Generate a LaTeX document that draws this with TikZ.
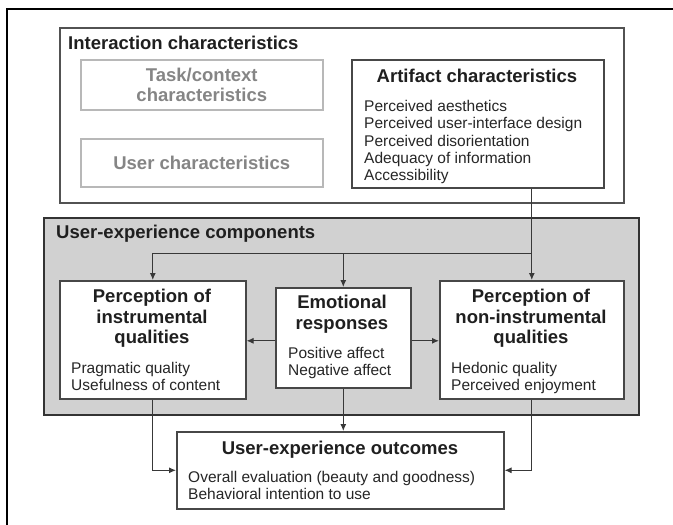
\documentclass[tikz,border=0pt]{standalone}
\usepackage{fontspec}
\setmainfont{Liberation Sans}
\usepackage{tikz}
\usetikzlibrary{arrows.meta,positioning,calc}
\tikzset{
  grp/.style={rectangle, draw=black!68, line width=1.6pt, inner sep=0pt, anchor=north west},
  ucbox/.style={grp, draw=black!80, line width=2pt, fill=black!18},
  dimbox/.style={grp, draw=black!28, text=black!48, align=center,
                 font=\fontsize{18.5}{20.5}\selectfont\bfseries},
  wbox/.style={grp, draw=black!72, fill=white},
  ttl/.style={inner sep=0pt, align=center, text=black!88,
              font=\fontsize{18.5}{20.5}\selectfont\bfseries},
  itm/.style={inner sep=0pt, align=left, anchor=north west, text=black!85,
              font=\fontsize{15.5}{17.3}\selectfont},
  ar/.style={-{Latex[length=7pt,width=6pt]}, line width=1pt, draw=black!78},
  frm/.style={line width=1.8pt, draw=black},
}

\begin{document}
\begin{tikzpicture}[x=1pt,y=-1pt]
\useasboundingbox (0,0) rectangle (673,525);

% ============================ page frame ================================
\draw[frm] (673,9) -- (7,9) -- (7,525);

% ============================ interaction characteristics ===============
\node[grp, minimum width=564pt, minimum height=175pt] (inter) at (59,27) {};
\node[ttl, anchor=west] (interT) at (68,43) {Interaction characteristics};

\node[dimbox, minimum width=242pt, minimum height=50pt] (task) at (80,59)
  {Task/context\\characteristics};
\node[dimbox, minimum width=242pt, minimum height=48pt] (user) at (80,138)
  {User characteristics};

\node[wbox, minimum width=252pt, minimum height=128pt] (art) at (351,59) {};
\node[ttl] (artT) at (477,76) {Artifact characteristics};
\node[itm] (artL) at (364,100)
  {Perceived aesthetics\\Perceived user-interface design\\Perceived disorientation\\
   Adequacy of information\\Accessibility};

% ============================ user-experience components ================
\node[ucbox, minimum width=595pt, minimum height=197pt] (uxc) at (43,217) {};
\node[ttl, anchor=north west] (uxcT) at (56,225) {User-experience components};

\node[wbox, minimum width=186pt, minimum height=118pt] (pinst) at (59,280) {};
\node[ttl, anchor=north] (pinstT) at (152,289) {Perception of\\instrumental\\qualities};
\node[itm] (pinstL) at (71,362) {Pragmatic quality\\Usefulness of content};

\node[wbox, minimum width=135pt, minimum height=100pt] (emo) at (275,287) {};
\node[ttl, anchor=north] (emoT) at (342,295) {Emotional\\responses};
\node[itm] (emoL) at (288,347) {Positive affect\\Negative affect};

\node[wbox, minimum width=184pt, minimum height=118pt] (pnon) at (439,280) {};
\node[ttl, anchor=north] (pnonT) at (531,289) {Perception of\\non-instrumental\\qualities};
\node[itm] (pnonL) at (451,362) {Hedonic quality\\Perceived enjoyment};

% ============================ user-experience outcomes ==================
\node[wbox, minimum width=327pt, minimum height=77pt] (outc) at (176,431) {};
\node[ttl, anchor=north] (outcT) at (340,441) {User-experience outcomes};
\node[itm] (outcL) at (188,471)
  {Overall evaluation (beauty and goodness)\\Behavioral intention to use};

% ============================ connectors ================================
\coordinate (dist) at (pnon.north |- 0,253);
\draw[ar] (pnon.north |- art.south) -- (pnon.north);
\draw[ar] (dist) -| (pinst.north);
\draw[ar] (emo.north |- dist) -- (emo.north);
\draw[ar] ([yshift=-3pt]emo.west) -- ([yshift=-3pt]emo.west -| pinst.east);
\draw[ar] ([yshift=-3pt]emo.east) -- ([yshift=-3pt]emo.east -| pnon.west);
\draw[ar] (emo.south) -- (emo.south |- outc.north);
\draw[ar] (pinst.south) |- (outc.west);
\draw[ar] (pnon.south) |- (outc.east);

\end{tikzpicture}
\end{document}
